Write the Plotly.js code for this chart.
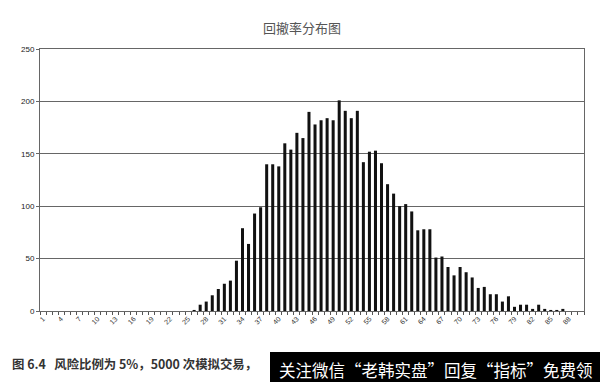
<!DOCTYPE html>
<html>
<head>
<meta charset="utf-8">
<script src="https://cdn.plot.ly/plotly-3.0.1.min.js"></script>
<style>html,body{margin:0;padding:0;background:#fff;}#chart{width:600px;height:382px;}</style>
</head>
<body>
<div id="chart"></div>
<script>
// categories 1..90 (drawdown bins)
const categories = [
  1,2,3,4,5,6,7,8,9,10,11,12,13,14,15,16,17,18,19,20,
  21,22,23,24,25,26,27,28,29,30,31,32,33,34,35,36,37,38,39,40,
  41,42,43,44,45,46,47,48,49,50,51,52,53,54,55,56,57,58,59,60,
  61,62,63,64,65,66,67,68,69,70,71,72,73,74,75,76,77,78,79,80,
  81,82,83,84,85,86,87,88,89,90
];
// counts per bin
const counts = [
  0,0,0,0,0,0,0,0,0,0,0,0,0,0,0,0,0,0,0,0,
  0,0,0,0,0,1,6,9,15,21,26,29,48,79,64,93,99,140,140,138,
  160,154,170,165,190,178,182,184,182,201,191,184,191,142,152,153,141,121,112,100,
  102,95,77,78,78,51,52,42,34,42,37,32,22,23,16,16,9,14,4,6,
  6,2,6,2,1,1,2,0,0,0
];
const tickLabels = [1,4,7,10,13,16,19,22,25,28,31,34,37,40,43,46,49,52,55,58,61,64,67,70,73,76,79,82,85,88];
const yTicks = [0,50,100,150,200,250];

const titleText = '回撤率分布图';
const captionText = '图 6.4\u00a0\u00a0\u00a0风险比例为 5%，5000 次模拟交易，';
const bannerText = '关注微信“老韩实盘”回复“指标”免费领';

const M = {l: 40, r: 16, t: 49, b: 71};
const W = 600, H = 382;
const pw = W - M.l - M.r, ph = H - M.t - M.b;
const px = x => (x - M.l) / pw;
const py = y => (H - M.b - y) / ph;

const cjk = '"Noto Sans CJK SC", "Noto Sans", sans-serif';

const trace = {
  type: 'bar',
  x: categories,
  y: counts,
  marker: {color: '#111111', line: {width: 0}},
  hoverinfo: 'x+y'
};

const layout = {
  width: W, height: H,
  margin: M,
  paper_bgcolor: '#ffffff',
  plot_bgcolor: '#ffffff',
  showlegend: false,
  bargap: 0.5,
  font: {family: 'Arial, "Liberation Sans", sans-serif', color: '#333'},
  title: {
    text: titleText,
    font: {family: cjk, size: 13, color: '#555'},
    x: px(302), xanchor: 'center', xref: 'paper',
    y: 1 - 28 / H, yanchor: 'middle'
  },
  xaxis: {
    type: 'linear',
    range: [0.5, 90.5],
    tickmode: 'array',
    tickvals: tickLabels,
    ticktext: tickLabels.map(String),
    tickangle: -45,
    ticks: '',
    tickfont: {size: 7, color: '#333', family: 'Arial, "Liberation Sans", sans-serif'},
    showgrid: false,
    zeroline: false,
    showline: true,
    linecolor: '#666',
    linewidth: 1,
    mirror: true,
    minor: {ticks: 'outside', ticklen: 3, tickcolor: '#555', tickwidth: 1, tickmode: 'linear', tick0: 0.5, dtick: 1, showgrid: false},
    fixedrange: true
  },
  yaxis: {
    range: [0, 250],
    tickmode: 'array',
    tickvals: yTicks,
    ticktext: yTicks.map(String),
    ticks: 'outside',
    ticklen: 3,
    tickcolor: '#666',
    tickfont: {size: 8, color: '#222', family: 'Arial, "Liberation Sans", sans-serif'},
    showgrid: true,
    gridcolor: '#666',
    gridwidth: 1,
    zeroline: false,
    showline: true,
    linecolor: '#666',
    linewidth: 1,
    mirror: true,
    fixedrange: true
  },
  shapes: [
    {type: 'rect', xref: 'paper', yref: 'paper', x0: px(270), x1: px(600), y0: py(382), y1: py(352),
     fillcolor: '#000000', line: {width: 0}, layer: 'above'}
  ],
  annotations: [
    {text: '<b>' + captionText + '</b>', xref: 'paper', yref: 'paper', x: px(10), y: py(364),
     xanchor: 'left', yanchor: 'middle', showarrow: false,
     font: {family: cjk, size: 12.4, color: '#333'}},
    {text: bannerText, xref: 'paper', yref: 'paper', x: px(277), y: py(369.5),
     xanchor: 'left', yanchor: 'middle', showarrow: false,
     font: {family: cjk, size: 16.5, color: '#ffffff'}}
  ]
};

Plotly.newPlot('chart', [trace], layout, {displayModeBar: false, staticPlot: true});
</script>
</body>
</html>
